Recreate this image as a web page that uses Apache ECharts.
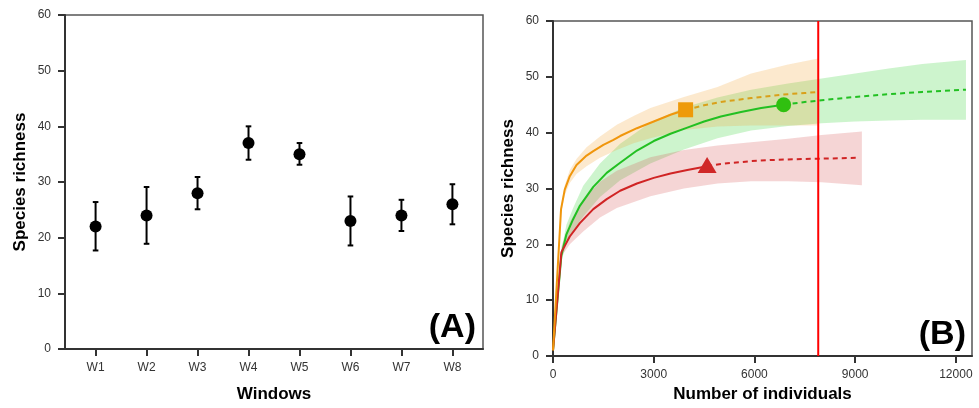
<!DOCTYPE html>
<html><head><meta charset="utf-8">
<script src="https://cdn.jsdelivr.net/npm/echarts@6/dist/echarts.min.js"></script>
<style>html,body{margin:0;padding:0;background:#fff}#c{width:979px;height:408px}</style>
</head><body><div id="c"></div>
<script>
// ---- Panel A data ----
const windows = ['W1','W2','W3','W4','W5','W6','W7','W8'];
const meanRichness = [22, 24, 28, 37, 35, 23, 24, 26];
const lowerRichness = [17.7, 18.9, 25.1, 34.0, 33.1, 18.6, 21.2, 22.4];
const upperRichness = [26.4, 29.1, 30.9, 40.0, 37.0, 27.4, 26.8, 29.6];
const yTicksA = [0, 10, 20, 30, 40, 50, 60];

// ---- Panel B data ----
const xTicksB = [0, 3000, 6000, 9000, 12000];
const orangeSolid = [[0,1],[240,26.3],[350,29.8],[500,32.2],[700,34.2],[1000,35.9],[1200,36.7],[1500,37.8],[1800,38.7],[2000,39.4],[2500,40.8],[3000,42.0],[3500,43.2],[3950,44.1]];
const orangeDash = [[3950,44.1],[4500,44.9],[5000,45.5],[5900,46.2],[6500,46.6],[7000,46.9],[7500,47.1],[7900,47.3]];
const greenSolid = [[0,1],[250,18],[400,21.8],[600,24.5],[800,26.9],[1200,30.3],[1600,32.8],[2000,34.6],[2500,36.8],[3000,38.5],[3500,39.8],[4000,40.9],[4500,42.0],[5000,42.9],[5600,43.7],[6200,44.4],[6870,45.0]];
const greenDash = [[6870,45.0],[7500,45.5],[8000,45.8],[9000,46.4],[10000,46.9],[11000,47.3],[12300,47.7]];
const redSolid = [[0,1],[250,18.6],[500,21.4],[800,23.8],[1200,26.3],[1600,28.1],[2000,29.6],[2500,30.9],[3000,31.9],[3500,32.7],[4000,33.3],[4590,34.0]];
const redDash = [[4590,34.0],[5000,34.4],[5900,34.9],[6500,35.1],[7500,35.3],[8500,35.4],[9100,35.5]];
// bands: [x, lower, upper]
const orangeBand = [[0,1,1],[240,25.5,27.0],[350,28.8,30.6],[500,31.0,33.3],[700,32.6,35.3],[1000,34.0,37.4],[1400,35.5,39.3],[1900,36.9,41.4],[2400,38.1,43.0],[2900,39.0,44.4],[3900,40.5,46.4],[4900,41.1,48.2],[5900,41.3,50.6],[7000,41.3,52.2],[7900,41.3,53.3]];
const greenBand = [[0,1,1],[250,17,19],[400,20,23.5],[600,22.5,26.5],[900,25,30.5],[1400,28.5,34.5],[2000,31.5,38],[2900,34.5,41.8],[3900,37,44.5],[4900,39,46.3],[5900,40.4,47.7],[7000,41.2,48.8],[8000,41.7,49.7],[9000,42,50.6],[10000,42.2,51.5],[11000,42.3,52.3],[12300,42.3,53]];
const redBand = [[0,1,1],[250,17.8,19.6],[500,20,24],[900,22.3,28],[1400,24.8,31.2],[1900,26.5,33.2],[2900,28.6,35.6],[3900,30.0,36.9],[4900,30.9,37.7],[5900,31.3,38.3],[7000,31.3,38.9],[8000,31.1,39.6],[9200,30.6,40.2]];
const markers = { orange: [3950, 44.1], green: [6870, 45.0], red: [4590, 34.2] };
const cutoff = 7900;

const FONT = "'Liberation Sans', Arial, sans-serif";
const chart = echarts.init(document.getElementById('c'), null, {renderer: 'canvas'});

function bandSeries(data, color) {
  return {
    type: 'custom', xAxisIndex: 1, yAxisIndex: 1, silent: true, z: 1,
    data: data,
    encode: {x: 0, y: [1, 2]},
    renderItem: function (params, api) {
      if (params.dataIndex !== 0) return null;
      const up = data.map(d => api.coord([d[0], d[2]]));
      const lo = data.map(d => api.coord([d[0], d[1]])).reverse();
      return {type: 'polygon', shape: {points: up.concat(lo)}, style: {fill: color, stroke: null}};
    }
  };
}
function lineSeries(data, color, dashed) {
  return {
    type: 'line', xAxisIndex: 1, yAxisIndex: 1, data: data, showSymbol: false, silent: true, z: 3,
    smooth: false,
    lineStyle: {color: color, width: 2, type: dashed ? [5, 4] : 'solid', join: 'round'}
  };
}

const axisCommon = {
  axisLine: {show: true, onZero: false, lineStyle: {color: '#333', width: 2}},
  axisTick: {show: true, inside: false, length: 7, lineStyle: {color: '#333', width: 2}},
  axisLabel: {color: '#333', fontSize: 12, fontFamily: FONT},
  splitLine: {show: false},
  nameTextStyle: {color: '#000', fontSize: 17, fontWeight: 'bold', fontFamily: FONT}
};

const option = {
  animation: false,
  backgroundColor: '#fff',
  grid: [
    {left: 65, top: 15, width: 418, height: 337, show: true, borderColor: '#555', borderWidth: 1.5, backgroundColor: 'transparent'},
    {left: 553, top: 21, width: 419, height: 337, show: true, borderColor: '#555', borderWidth: 1.5, backgroundColor: 'transparent'}
  ],
  xAxis: [
    Object.assign({}, axisCommon, {
      type: 'value', gridIndex: 0, min: 0.4, max: 8.6,
      name: 'Windows', nameLocation: 'middle', nameGap: 37,
      axisTick: Object.assign({}, axisCommon.axisTick, {customValues: windows.map((w, i) => i + 1)}),
      axisLabel: Object.assign({}, axisCommon.axisLabel, {margin: 13, customValues: windows.map((w, i) => i + 1), formatter: v => windows[Math.round(v) - 1] || ''})
    }),
    Object.assign({}, axisCommon, {
      type: 'value', gridIndex: 1, min: 0, max: 12480,
      name: 'Number of individuals', nameLocation: 'middle', nameGap: 30,
      axisTick: Object.assign({}, axisCommon.axisTick, {customValues: xTicksB}),
      axisLabel: Object.assign({}, axisCommon.axisLabel, {margin: 13, customValues: xTicksB, formatter: v => String(v)})
    })
  ],
  yAxis: [
    Object.assign({}, axisCommon, {
      type: 'value', gridIndex: 0, min: 0, max: 60, interval: 10,
      name: 'Species richness', nameLocation: 'middle', nameGap: 36, nameRotate: 90,
      axisLabel: Object.assign({}, axisCommon.axisLabel, {margin: 14})
    }),
    Object.assign({}, axisCommon, {
      type: 'value', gridIndex: 1, min: 0, max: 60, interval: 10,
      name: 'Species richness', nameLocation: 'middle', nameGap: 36, nameRotate: 90,
      axisLabel: Object.assign({}, axisCommon.axisLabel, {margin: 14})
    })
  ],
  series: [
    // Panel A error bars
    {
      type: 'custom', xAxisIndex: 0, yAxisIndex: 0, silent: true, z: 2,
      data: windows.map((w, i) => [i + 1, lowerRichness[i], upperRichness[i]]),
      encode: {x: 0, y: [1, 2]},
      renderItem: function (params, api) {
        const x = api.value(0);
        const lo = api.coord([x, api.value(1)]);
        const hi = api.coord([x, api.value(2)]);
        const hw = 2.8;
        const st = {stroke: '#000', lineWidth: 2};
        return {type: 'group', children: [
          {type: 'line', shape: {x1: lo[0], y1: lo[1], x2: hi[0], y2: hi[1]}, style: st},
          {type: 'line', shape: {x1: lo[0] - hw, y1: lo[1], x2: lo[0] + hw, y2: lo[1]}, style: st},
          {type: 'line', shape: {x1: hi[0] - hw, y1: hi[1], x2: hi[0] + hw, y2: hi[1]}, style: st}
        ]};
      }
    },
    {
      type: 'scatter', xAxisIndex: 0, yAxisIndex: 0, silent: true, z: 3,
      data: meanRichness.map((v, i) => [i + 1, v]),
      symbol: 'circle', symbolSize: 12, itemStyle: {color: '#000', opacity: 1}
    },
    // Panel B bands
    bandSeries(greenBand, 'rgba(70,215,70,0.27)'),
    bandSeries(redBand, 'rgba(215,80,80,0.24)'),
    bandSeries(orangeBand, 'rgba(242,165,50,0.24)'),
    // lines
    lineSeries(greenSolid, '#22c022', false),
    lineSeries(greenDash, '#22c022', true),
    lineSeries(redSolid, '#d02424', false),
    lineSeries(redDash, '#d02424', true),
    lineSeries(orangeSolid, '#f0960c', false),
    lineSeries(orangeDash, '#d9a01a', true),
    // markers
    {type: 'scatter', xAxisIndex: 1, yAxisIndex: 1, silent: true, z: 5, data: [markers.orange], symbol: 'rect', symbolSize: 15, itemStyle: {color: '#ee9a0a', opacity: 1}},
    {type: 'scatter', xAxisIndex: 1, yAxisIndex: 1, silent: true, z: 5, data: [markers.green], symbol: 'circle', symbolSize: 15, itemStyle: {color: '#30c010', opacity: 1}},
    {type: 'scatter', xAxisIndex: 1, yAxisIndex: 1, silent: true, z: 5, data: [markers.red], symbol: 'triangle', symbolSize: [19, 16], itemStyle: {color: '#d02828', opacity: 1}},
    // cutoff line
    {type: 'line', xAxisIndex: 1, yAxisIndex: 1, silent: true, z: 6, showSymbol: false,
     data: [[cutoff, 0], [cutoff, 60]], lineStyle: {color: '#ff0000', width: 2}}
  ],
  graphic: [
    {type: 'text', right: 979 - 476, top: 311, style: {text: '(A)', font: "bold 34px 'Liberation Sans', Arial, sans-serif", fill: '#000'}},
    {type: 'text', right: 979 - 966, top: 318, style: {text: '(B)', font: "bold 34px 'Liberation Sans', Arial, sans-serif", fill: '#000'}}
  ]
};
chart.setOption(option);
</script>
</body></html>
